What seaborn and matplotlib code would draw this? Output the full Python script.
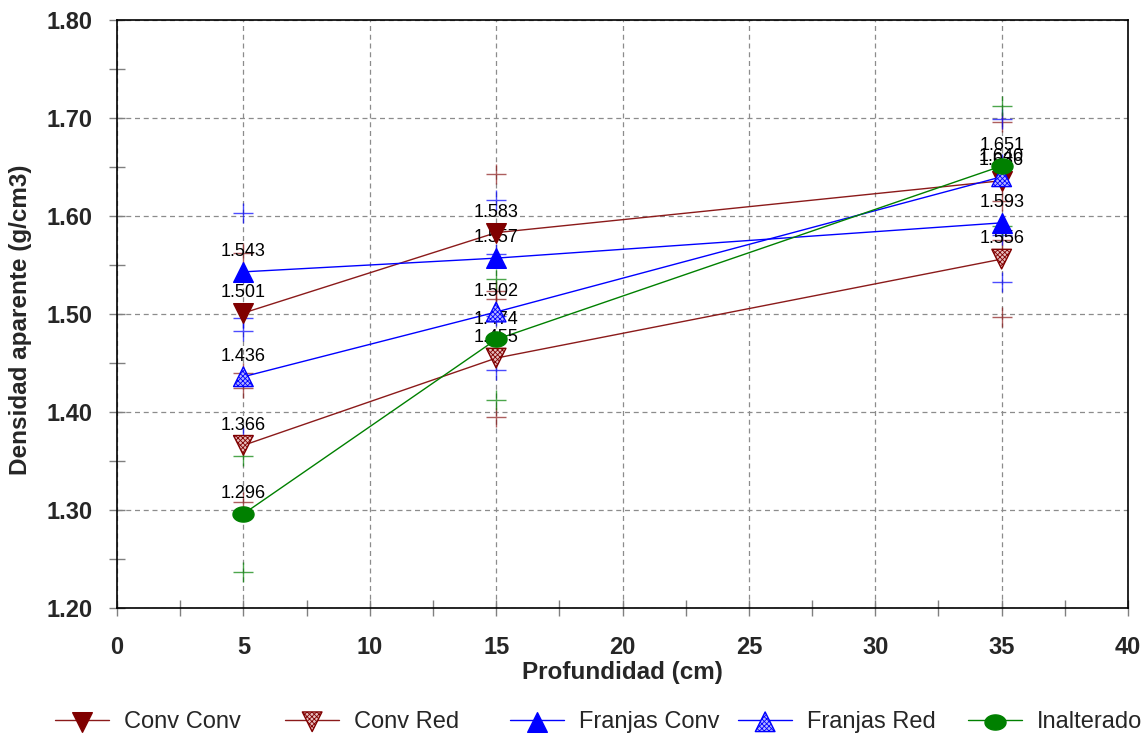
import numpy as np
import pandas as pd
import matplotlib
matplotlib.use("Agg")
import matplotlib.pyplot as plt
import seaborn as sns
from matplotlib.path import Path
from matplotlib.lines import Line2D
from matplotlib.legend_handler import HandlerTuple

# ---- data ----
depth = [5, 15, 35]
series_names = ["Conv Conv", "Conv Red", "Franjas Conv", "Franjas Red", "Inalterado"]
conv_conv = [1.501, 1.583, 1.636]
conv_red = [1.366, 1.455, 1.556]
franjas_conv = [1.543, 1.557, 1.593]
franjas_red = [1.436, 1.502, 1.640]
inalterado = [1.296, 1.474, 1.651]

conv_conv_err = [0.061, 0.060, 0.060]
conv_red_err = [0.058, 0.060, 0.059]
franjas_conv_err = [0.060, 0.059, 0.060]
franjas_red_err = [0.060, 0.059, 0.059]
inalterado_err = [0.059, 0.062, 0.061]

x_ticks = [0, 5, 10, 15, 20, 25, 30, 35, 40]
y_ticks = [1.20, 1.30, 1.40, 1.50, 1.60, 1.70, 1.80]

sns.set_theme(style="white")
plt.rcParams['font.family'] = ['Liberation Sans', 'DejaVu Sans']
plt.rcParams['hatch.linewidth'] = 0.6

fig = plt.figure(figsize=(11.46, 7.37), dpi=100)
ax = fig.add_axes([0.1021, 0.175, 0.8822, 0.7979])

# ellipse marker
t = np.linspace(0, 2 * np.pi, 40)
ell = Path(np.column_stack([np.cos(t), 0.72 * np.sin(t)]), closed=True)

dark_red = "#800000"
line_red = "#8B1A1A"
blue = "#0000FF"
green = "#008000"

styles = {
    "Conv Conv": dict(color=line_red, marker="v", face=dark_red, hatch=None, edge=dark_red),
    "Conv Red": dict(color=line_red, marker="v", face="#E6BCBC", hatch="xxxxxxx", edge=dark_red),
    "Franjas Conv": dict(color=blue, marker="^", face=blue, hatch=None, edge=blue),
    "Franjas Red": dict(color=blue, marker="^", face="#B4B4FF", hatch="xxxxxxx", edge=blue),
    "Inalterado": dict(color=green, marker=ell, face=green, hatch=None, edge=green),
}
values = {
    "Conv Conv": (conv_conv, conv_conv_err),
    "Conv Red": (conv_red, conv_red_err),
    "Franjas Conv": (franjas_conv, franjas_conv_err),
    "Franjas Red": (franjas_red, franjas_red_err),
    "Inalterado": (inalterado, inalterado_err),
}

ax.set_xlim(0, 40)
ax.set_ylim(1.20, 1.80)
ax.set_xticks(x_ticks)
ax.set_yticks(y_ticks)
ax.set_xticks(np.arange(2.5, 40, 5), minor=True)
ax.set_yticks(np.arange(1.25, 1.80, 0.1), minor=True)
ax.grid(True, which="major", color="#8C8C8C", linestyle=(0, (4, 3)), linewidth=0.9)
ax.set_axisbelow(True)

handles = []
for name in series_names:
    st = styles[name]
    yv, ev = values[name]
    df = pd.DataFrame({"x": depth, "y": yv})
    sns.lineplot(data=df, x="x", y="y", ax=ax, color=st["color"], linewidth=1.0,
                 zorder=3, legend=False)
    up = [a + b for a, b in zip(yv, ev)]
    lo = [a - b for a, b in zip(yv, ev)]
    ax.plot(depth, up, linestyle="none", marker="+", markersize=14, mew=1.0,
            color=st["color"], alpha=0.7, zorder=2)
    ax.plot(depth, lo, linestyle="none", marker="+", markersize=14, mew=1.0,
            color=st["color"], alpha=0.7, zorder=2)
    with plt.rc_context({"hatch.color": st["edge"]}):
        sc = ax.scatter(depth, yv, marker=st["marker"], s=200 if st["marker"] != ell else 230,
                        facecolor=st["face"], edgecolor=st["edge"], linewidths=1.0,
                        hatch=st["hatch"], zorder=5)
    for xx, yy in zip(depth, yv):
        ax.annotate(f"{yy:.3f}", (xx, yy), xytext=(0, 14.5), textcoords="offset points",
                    ha="center", va="center", fontsize=13, color="black", zorder=4)
    ln = Line2D([0], [0], color=st["color"], linewidth=1.0)
    handles.append((ln, sc))

for sp in ax.spines.values():
    sp.set_color("black")
    sp.set_linewidth(1.2)

ax.tick_params(axis="both", which="both", bottom=True, left=True, top=False, right=False)
ax.tick_params(axis="both", which="major", direction="inout", length=11, width=1,
               color="#808080", labelsize=17, pad=12)
ax.tick_params(axis="both", which="minor", direction="inout", length=11, width=1,
               color="#808080")
ax.tick_params(axis="x", which="major", pad=15)
ax.yaxis.set_major_formatter(matplotlib.ticker.FormatStrFormatter("%.2f"))
for lbl in ax.get_xticklabels() + ax.get_yticklabels():
    lbl.set_fontweight("bold")

ax.set_xlabel("Profundidad (cm)", fontsize=17.5, fontweight="bold", labelpad=1)
ax.set_ylabel("Densidad aparente (g/cm3)", fontsize=17.5, fontweight="bold")
ax.yaxis.set_label_coords(-0.084, 0.49)

# legend entries at fixed column positions (pixels in a 1146-wide figure)
legend_x = [55, 285, 510, 738, 968]
for h, name, lx in zip(handles, series_names, legend_x):
    fig.legend([h], [name], loc="center left", bbox_to_anchor=(lx / 1146, 0.0204),
               frameon=False, fontsize=17, handlelength=2.3, handletextpad=0.62,
               borderpad=0, borderaxespad=0,
               handler_map={tuple: HandlerTuple(ndivide=1, pad=0)}, scatterpoints=1)

fig.savefig("out.png", dpi=100)
